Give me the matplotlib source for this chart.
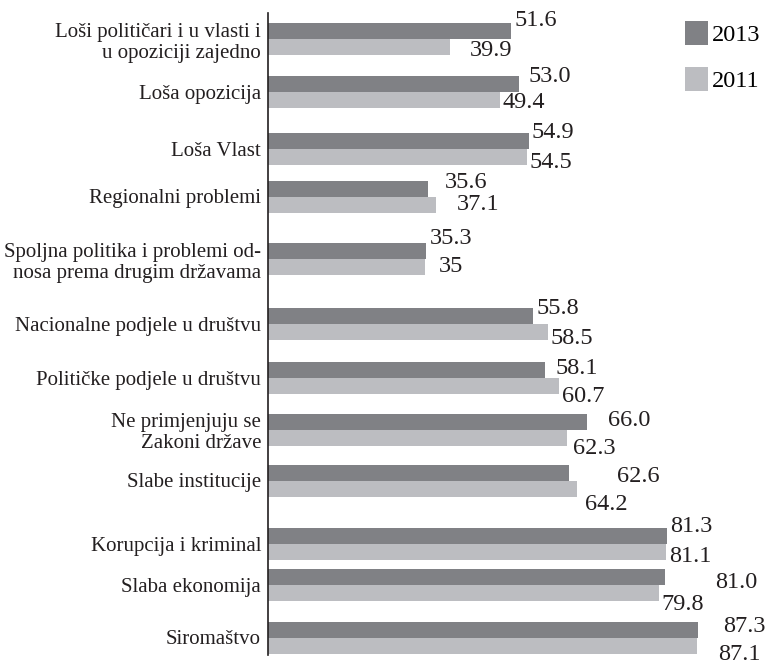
import numpy as np
import matplotlib.pyplot as plt

# data (top row first)
categories = [
    "Loši političari i u vlasti i\nu opoziciji zajedno",
    "Loša opozicija",
    "Loša Vlast",
    "Regionalni problemi",
    "Spoljna politika i problemi od-\nnosa prema drugim državama",
    "Nacionalne podjele u društvu",
    "Političke podjele u društvu",
    "Ne primjenjuju se\nZakoni države",
    "Slabe institucije",
    "Korupcija i kriminal",
    "Slaba ekonomija",
    "Siromaštvo",
]
v2013 = [51.6, 53.0, 54.9, 35.6, 35.3, 55.8, 58.1, 66.0, 62.6, 81.3, 81.0, 87.3]
v2011 = [39.9, 49.4, 54.5, 37.1, 35.0, 58.5, 60.7, 62.3, 64.2, 81.1, 79.8, 87.1]
lab2013 = ["51.6", "53.0", "54.9", "35.6", "35.3", "55.8", "58.1", "66.0", "62.6", "81.3", "81.0", "87.3"]
lab2011 = ["39.9", "49.4", "54.5", "37.1", "35", "58.5", "60.7", "62.3", "64.2", "81.1", "79.8", "87.1"]

# layout: row centres (pixel rows of the figure) and label nudges (pixels)
row_y = [39, 91.5, 148.5, 196.5, 259, 324, 377.5, 429.5, 480.5, 543.5, 585, 637.5]
dx13 = [3, 10, 3, 17, 3, 3, 10, 21, 48, 3, 50, 25]
dy13 = [-11, -7, -7.5, -6.5, -13, -7.5, -1.5, -1.5, 4.5, -9.5, 6, -2.5]
dx11 = [19, 3, 3, 21, 14, 3, 3, 6, 8, 3, 3, 21]
dy11 = [3.5, 3.5, 5.5, -0.5, 0, 6, 11.5, 11.5, 16.5, 5.5, 12, 9.5]

dark = "#808185"
light = "#bcbdc1"
bar_h = 16

plt.rcParams['font.family'] = ['Liberation Serif', 'DejaVu Serif']

W, H = 767, 664
fig = plt.figure(figsize=(W / 100, H / 100), dpi=100)
ax = fig.add_axes([268 / W, 1 - 655 / H, 1 - 268 / W, (655 - 13) / H])

y = np.array(row_y)
b13 = ax.barh(y - bar_h / 2, v2013, height=bar_h, color=dark, label="2013")
b11 = ax.barh(y + bar_h / 2, v2011, height=bar_h, color=light, label="2011")

ax.set_xlim(5, 100.5)
ax.set_ylim(655, 13)

for i in range(len(categories)):
    ax.annotate(lab2013[i], (v2013[i], y[i] - bar_h / 2), textcoords="offset pixels",
                xytext=(dx13[i], -dy13[i]), ha='left', va='center', fontsize=17.5,
                color="#231f20", annotation_clip=False)
    ax.annotate(lab2011[i], (v2011[i], y[i] + bar_h / 2), textcoords="offset pixels",
                xytext=(dx11[i], -dy11[i]), ha='left', va='center', fontsize=17.5,
                color="#231f20", annotation_clip=False)

ax.set_yticks(y)
ax.set_yticklabels(categories, fontsize=15, color="#231f20", linespacing=1.15)
ax.tick_params(axis='y', length=0, pad=5)
ax.set_xticks([])
for s in ['top', 'right', 'bottom']:
    ax.spines[s].set_visible(False)
ax.spines['left'].set_linewidth(1.2)
ax.spines['left'].set_color("#231f20")

ax.legend(handles=[b13, b11], loc='upper left', bbox_to_anchor=(685 / W, 1 - 21 / H),
          bbox_transform=fig.transFigure, frameon=False, fontsize=17.5,
          handlelength=0.95, handleheight=1.15, handletextpad=0.15,
          labelspacing=0.85, borderpad=0, borderaxespad=0)

fig.savefig("out.png", dpi=100)
